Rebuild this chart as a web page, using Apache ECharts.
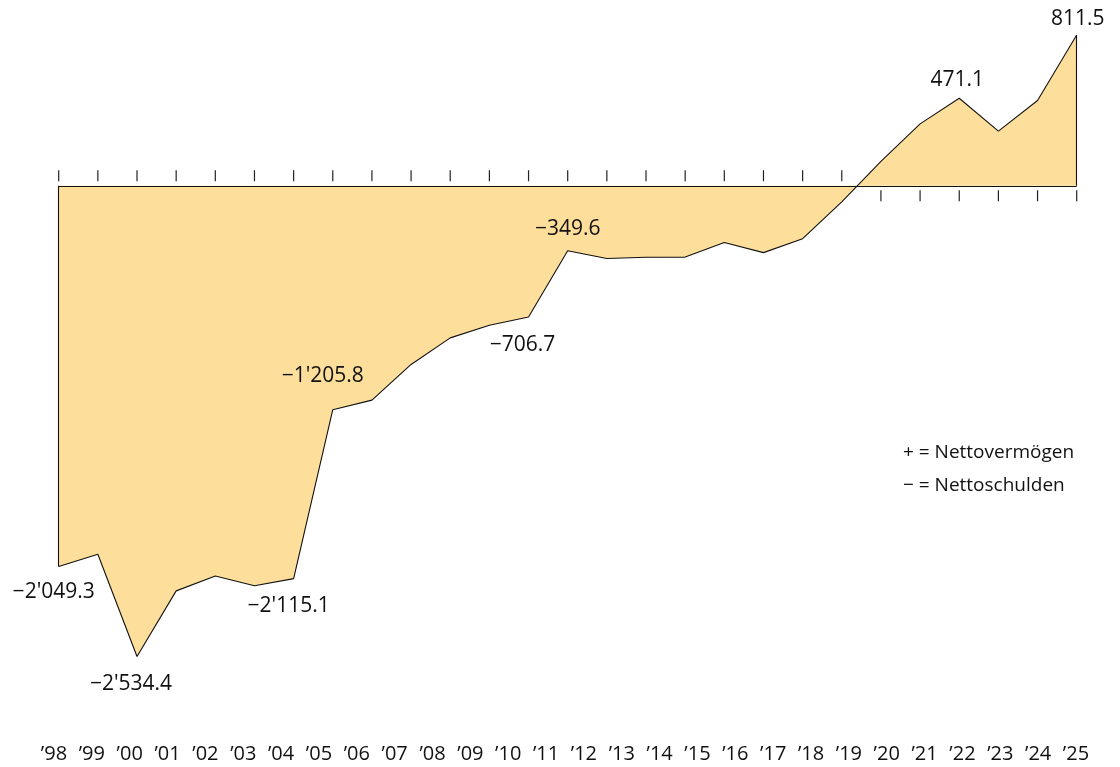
<!DOCTYPE html>
<html>
<head>
<meta charset="utf-8">
<script src="https://cdn.jsdelivr.net/npm/echarts@6/dist/echarts.min.js"></script>
<style>
  html, body { margin: 0; padding: 0; background: #fff; }
  #chart { width: 1120px; height: 767px; }
</style>
</head>
<body>
<div id="chart"></div>
<script>
// ---- data ----
const tickLabels = ["’98","’99","’00","’01","’02","’03","’04","’05","’06","’07","’08","’09","’10","’11",
                    "’12","’13","’14","’15","’16","’17","’18","’19","’20","’21","’22","’23","’24","’25"];
const values = [-2049.3, -1984, -2534.4, -2181, -2101, -2153, -2115.1, -1205.8, -1154, -962,
                -819, -751, -706.7, -349.6, -392, -385, -384, -306, -360, -285,
                -87, 131, 333, 471.1, 294, 459, 811.5];
const labeledPoints = [0, 2, 6, 7, 12, 13, 23, 26];
const legendLines = ["+ = Nettovermögen", "\u2212 = Nettoschulden"];

// ---- label placement (style, not data) ----
const labelPlace = {
  0:  { position: 'bottom', distance: 15, offset: [-5, 0] },
  2:  { position: 'bottom', distance: 17, offset: [-6, 0] },
  6:  { position: 'bottom', distance: 17, offset: [-5, 0] },
  7:  { position: 'top',    distance: 23, offset: [-10, 0] },
  12: { position: 'bottom', distance: 17, offset: [-6, 0] },
  13: { position: 'top',    distance: 11, offset: [0, 0] },
  23: { position: 'top',    distance: 8,  offset: [-2, 0] },
  26: { position: 'top',    distance: 5,  offset: [1, 0] }
};

function fmt(v) {
  const neg = v < 0;
  const parts = Math.abs(v).toFixed(1).split('.');
  const intPart = parts[0].replace(/\B(?=(\d{3})+(?!\d))/g, "'");
  return (neg ? '\u2212' : '') + intPart + '.' + parts[1];
}

const pointCats = values.map((v, i) => String(i));
const FONT = "Open Sans";
const INK = '#111111';

const chart = echarts.init(document.getElementById('chart'), null, { renderer: 'canvas' });

const option = {
  animation: false,
  backgroundColor: '#ffffff',
  textStyle: { fontFamily: FONT },
  grid: [
    { left: 58.7, right: 43.3, top: 0, bottom: 24 },
    { left: 54, right: 44, top: 720, height: 20 }
  ],
  xAxis: [
    { gridIndex: 0, type: 'category', boundaryGap: false, data: pointCats, show: false },
    { gridIndex: 1, type: 'category', boundaryGap: false, data: tickLabels,
      axisLine: { show: false }, axisTick: { show: false }, splitLine: { show: false },
      axisLabel: { interval: 0, margin: 4, fontSize: 20, color: INK, fontFamily: FONT } }
  ],
  yAxis: [
    { gridIndex: 0, type: 'value', min: -3000, max: 1000, show: false, splitLine: { show: false } },
    { gridIndex: 1, type: 'value', show: false }
  ],
  series: [
    {
      type: 'line',
      xAxisIndex: 0, yAxisIndex: 0,
      data: values,
      symbol: 'none',
      lineStyle: { color: '#111', width: 1.1 },
      areaStyle: { color: '#FEDE9B', opacity: 1, origin: 0 },
      z: 2,
      markLine: {
        silent: true,
        symbol: 'none',
        label: { show: false },
        lineStyle: { color: '#111', width: 1.1, type: 'solid' },
        data: [
          [{ coord: [pointCats[0], 0] }, { coord: [pointCats[values.length - 1], 0] }],
          [{ coord: [pointCats[0], 0] }, { coord: [pointCats[0], values[0]] }],
          [{ coord: [pointCats[values.length - 1], 0] }, { coord: [pointCats[values.length - 1], values[values.length - 1]] }]
        ]
      }
    },
    {
      // tick marks on the zero line, pointing away from the area
      type: 'scatter',
      xAxisIndex: 0, yAxisIndex: 0,
      silent: true,
      symbol: 'rect',
      symbolSize: [1.2, 11],
      itemStyle: { color: '#222', opacity: 1 },
      data: values.map((v, i) => ({ value: [pointCats[i], 0], symbolOffset: [0, v < 0 ? -10 : 10] })),
      z: 3
    },
    {
      // value labels
      type: 'scatter',
      xAxisIndex: 0, yAxisIndex: 0,
      silent: true,
      symbolSize: 0,
      itemStyle: { opacity: 1 },
      data: labeledPoints.map(i => ({
        value: [pointCats[i], values[i]],
        label: Object.assign({
          show: true,
          formatter: fmt(values[i]),
          fontSize: 21,
          color: INK,
          opacity: 1,
          fontFamily: FONT
        }, labelPlace[i])
      })),
      z: 4
    }
  ],
  graphic: legendLines.map((t, k) => ({
    type: 'text',
    left: 903,
    top: 456 + k * 33 - 13,
    style: { text: t, fontSize: 19, fontFamily: FONT, fill: INK }
  }))
};

chart.setOption(option);
</script>
</body>
</html>
